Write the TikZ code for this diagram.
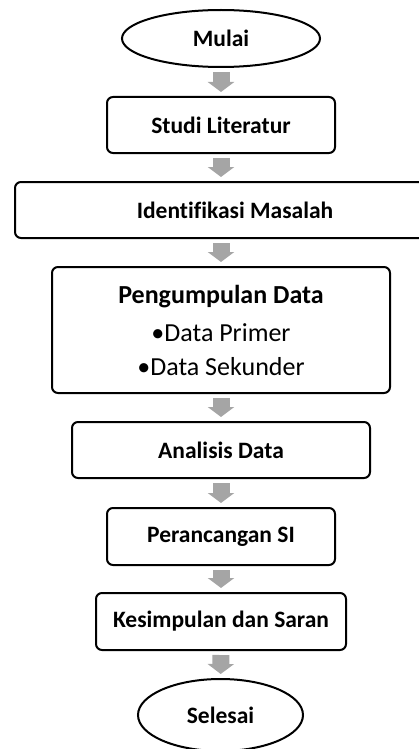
\documentclass[tikz,border=0pt]{standalone}
\usepackage{fontspec}
\setmainfont{Carlito}[Ligatures=CommonOff]
\usetikzlibrary{shapes.geometric,arrows.meta}
\definecolor{panahabu}{RGB}{165,165,165}
\tikzset{
  terminal/.style={draw, line width=2pt, ellipse, inner sep=0pt, font=\fontsize{23.5}{28}\selectfont\bfseries},
  proses/.style={draw, line width=2pt, rounded corners=6pt, inner sep=0pt, font=\fontsize{23.5}{28}\selectfont\bfseries},
  panah/.style={draw=panahabu, line width=17pt, -{Triangle[width=26pt,length=10pt]}, shorten <=4pt, shorten >=4pt}
}

\begin{document}
\begin{tikzpicture}[x=1pt,y=-1pt]
  %%%%% START %%%%%
  \useasboundingbox (0,0) rectangle (419,749);

  \node[terminal, minimum width=198pt, minimum height=57pt] (mulai) at (221,38.5) {Mulai};
  \node[proses, minimum width=228pt, minimum height=56pt] (studi) at (221,125) {Studi Literatur};
  \node[proses, minimum width=440pt, minimum height=56pt] (identifikasi) at (235,210) {Identifikasi Masalah};
  \node[proses, minimum width=338pt, minimum height=126pt, align=center,
        font=\fontsize{26}{34}\selectfont] (pengumpulan) at (221,330)
    {\textbf{Pengumpulan Data}\\[4pt]\textbullet Data Primer\\\textbullet Data Sekunder};
  \node[proses, minimum width=298pt, minimum height=56pt] (analisis) at (221,450) {Analisis Data};
  \node[proses, minimum width=228pt, minimum height=57pt] (perancangan) at (221,536.5) {Perancangan SI};
  \node[proses, minimum width=250pt, minimum height=57pt] (kesimpulan) at (221,621.5) {Kesimpulan dan Saran};
  \node[terminal, minimum width=165pt, minimum height=72pt] (selesai) at (220.5,715) {Selesai};

  % panah abu-abu antar tahap
  \draw[panah] (mulai) -- (studi);
  \draw[panah] (studi.south) -- (studi.south |- identifikasi.north);
  \draw[panah] (pengumpulan.north |- identifikasi.south) -- (pengumpulan.north);
  \draw[panah] (pengumpulan) -- (analisis);
  \draw[panah] (analisis) -- (perancangan);
  \draw[panah] (perancangan) -- (kesimpulan);
  \draw[panah] (kesimpulan) -- (selesai);

  %%%%% END %%%%%
\end{tikzpicture}
\end{document}
